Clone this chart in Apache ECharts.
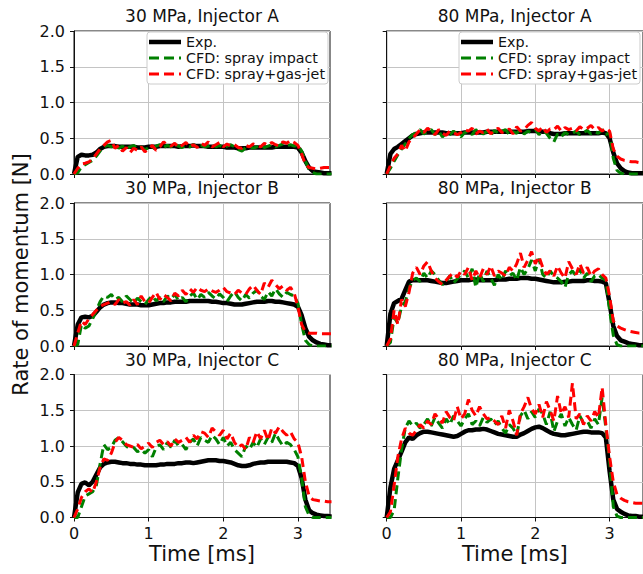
<!DOCTYPE html>
<html>
<head>
<meta charset="utf-8">
<script src="https://cdn.jsdelivr.net/npm/echarts@6/dist/echarts.min.js"></script>
<style>html,body{margin:0;padding:0;background:#fff}#c{width:643px;height:574px}</style>
</head>
<body>
<div id="c"></div>
<script>
// ---- data (time in ms, rate of momentum in N) ----
const time = [0,0.05,0.1,0.15,0.2,0.25,0.3,0.35,0.4,0.45,0.5,0.55,0.6,0.65,0.7,0.75,0.8,0.85,0.9,0.95,1,1.05,1.1,1.15,1.2,1.25,1.3,1.35,1.4,1.45,1.5,1.55,1.6,1.65,1.7,1.75,1.8,1.85,1.9,1.95,2,2.05,2.1,2.15,2.2,2.25,2.3,2.35,2.4,2.45,2.5,2.55,2.6,2.65,2.7,2.75,2.8,2.85,2.9,2.95,3,3.05,3.1,3.15,3.2,3.25,3.3,3.35,3.4,3.45];
const xTicks = [0,1,2,3];
const yTicks = [0,0.5,1,1.5,2];
const seriesNames = ['Exp.','CFD: spray impact','CFD: spray+gas-jet'];
const titles = ['30 MPa, Injector A','80 MPa, Injector A','30 MPa, Injector B','80 MPa, Injector B','30 MPa, Injector C','80 MPa, Injector C'];

const exp30A = [0,0.24,0.27,0.26,0.26,0.27,0.30,0.35,0.38,0.39,
 0.39,0.39,0.38,0.38,0.38,0.38,0.38,0.37,0.37,0.37,
 0.38,0.38,0.38,0.39,0.39,0.39,0.39,0.39,0.38,0.39,
 0.39,0.39,0.40,0.39,0.39,0.39,0.38,0.38,0.38,0.38,
 0.38,0.37,0.37,0.37,0.36,0.36,0.36,0.37,0.37,0.37,
 0.37,0.37,0.37,0.37,0.38,0.38,0.38,0.38,0.38,0.38,
 0.37,0.30,0.18,0.09,0.04,0.03,0.02,0.01,0.01,0.01];
const spray30A = [0,0.02,0.10,0.13,0.16,0.19,0.25,0.32,0.38,0.40,
 0.38,0.41,0.36,0.39,0.35,0.38,0.40,0.36,0.38,0.34,
 0.37,0.35,0.39,0.41,0.37,0.40,0.38,0.42,0.39,0.37,
 0.40,0.38,0.41,0.37,0.40,0.38,0.39,0.42,0.38,0.40,
 0.37,0.39,0.41,0.38,0.34,0.32,0.37,0.39,0.36,0.38,
 0.40,0.37,0.39,0.41,0.38,0.40,0.42,0.39,0.41,0.39,
 0.40,0.32,0.18,0.06,0.02,0.00,0.00,0.00,0.00,0.00];
const gasjet30A = [0,0.08,0.14,0.15,0.17,0.21,0.28,0.35,0.40,0.45,
 0.47,0.36,0.40,0.32,0.37,0.30,0.36,0.33,0.38,0.31,
 0.35,0.40,0.33,0.38,0.45,0.41,0.39,0.43,0.37,0.40,
 0.44,0.38,0.41,0.37,0.43,0.40,0.45,0.38,0.41,0.44,
 0.38,0.42,0.39,0.41,0.37,0.36,0.40,0.38,0.42,0.40,
 0.38,0.43,0.40,0.44,0.41,0.39,0.45,0.43,0.47,0.44,
 0.40,0.28,0.14,0.09,0.08,0.07,0.08,0.09,0.09,0.09];

const exp80A = [0,0.28,0.35,0.38,0.42,0.46,0.50,0.54,0.56,0.57,
 0.58,0.58,0.58,0.58,0.58,0.58,0.57,0.57,0.57,0.57,
 0.57,0.58,0.58,0.58,0.58,0.58,0.58,0.59,0.59,0.59,
 0.59,0.59,0.59,0.59,0.59,0.59,0.59,0.59,0.60,0.60,
 0.60,0.60,0.59,0.59,0.57,0.56,0.56,0.56,0.57,0.57,
 0.57,0.57,0.57,0.57,0.57,0.57,0.57,0.57,0.58,0.57,
 0.50,0.30,0.15,0.08,0.04,0.02,0.01,0.01,0.01,0.01];
const spray80A = [0,0.08,0.18,0.27,0.35,0.42,0.50,0.55,0.58,0.62,
 0.56,0.60,0.62,0.55,0.60,0.52,0.57,0.55,0.60,0.56,
 0.52,0.58,0.60,0.55,0.62,0.58,0.56,0.60,0.54,0.61,
 0.57,0.60,0.62,0.55,0.59,0.57,0.62,0.56,0.60,0.58,
 0.62,0.55,0.60,0.57,0.50,0.45,0.56,0.52,0.58,0.55,
 0.57,0.60,0.55,0.58,0.61,0.56,0.59,0.57,0.62,0.55,
 0.58,0.22,0.05,0.01,0.00,0.00,0.00,0.00,0.00,0.00];
const gasjet80A = [0,0.12,0.22,0.28,0.40,0.32,0.45,0.50,0.56,0.62,
 0.58,0.64,0.60,0.55,0.62,0.57,0.54,0.60,0.58,0.55,
 0.58,0.62,0.60,0.64,0.56,0.60,0.58,0.63,0.56,0.61,
 0.64,0.58,0.60,0.63,0.56,0.66,0.60,0.62,0.68,0.72,
 0.64,0.60,0.66,0.58,0.63,0.62,0.67,0.60,0.65,0.62,
 0.64,0.60,0.66,0.62,0.64,0.68,0.62,0.65,0.60,0.64,
 0.60,0.35,0.25,0.21,0.19,0.18,0.17,0.17,0.16,0.16];

const exp30B = [0,0.30,0.40,0.41,0.40,0.42,0.48,0.54,0.58,0.60,
 0.61,0.61,0.60,0.60,0.59,0.58,0.58,0.58,0.57,0.57,
 0.57,0.58,0.59,0.60,0.60,0.61,0.61,0.62,0.62,0.62,
 0.62,0.63,0.63,0.63,0.63,0.63,0.63,0.62,0.62,0.61,
 0.60,0.60,0.59,0.58,0.58,0.58,0.59,0.60,0.61,0.62,
 0.62,0.62,0.63,0.63,0.62,0.62,0.61,0.60,0.59,0.58,
 0.55,0.43,0.25,0.13,0.08,0.05,0.03,0.02,0.01,0.01];
const spray30B = [0,0.02,0.30,0.25,0.28,0.38,0.50,0.62,0.70,0.68,
 0.72,0.65,0.68,0.62,0.70,0.65,0.60,0.67,0.62,0.58,
 0.65,0.70,0.63,0.68,0.62,0.70,0.66,0.72,0.64,0.68,
 0.62,0.70,0.74,0.65,0.72,0.68,0.75,0.70,0.66,0.73,
 0.68,0.62,0.70,0.76,0.68,0.63,0.72,0.67,0.74,0.78,
 0.70,0.65,0.76,0.70,0.80,0.73,0.68,0.75,0.72,0.70,
 0.60,0.30,0.08,0.02,0.00,0.00,0.00,0.00,0.00,0.00];
const gasjet30B = [0,0.18,0.35,0.30,0.38,0.44,0.50,0.55,0.58,0.60,
 0.62,0.58,0.65,0.60,0.62,0.57,0.65,0.58,0.70,0.62,
 0.60,0.68,0.75,0.65,0.72,0.68,0.63,0.74,0.70,0.78,
 0.72,0.80,0.75,0.82,0.78,0.76,0.80,0.77,0.75,0.78,
 0.82,0.76,0.74,0.72,0.78,0.74,0.72,0.80,0.85,0.78,
 0.72,0.88,0.82,0.92,0.86,0.80,0.84,0.78,0.82,0.74,
 0.55,0.30,0.20,0.18,0.18,0.18,0.17,0.17,0.17,0.17];

const exp80B = [0,0.45,0.60,0.63,0.66,0.78,0.90,0.92,0.92,0.92,
 0.92,0.92,0.91,0.90,0.89,0.88,0.88,0.89,0.90,0.91,
 0.92,0.92,0.92,0.93,0.93,0.92,0.92,0.92,0.92,0.92,
 0.93,0.93,0.93,0.94,0.94,0.94,0.95,0.95,0.95,0.94,
 0.94,0.93,0.92,0.91,0.90,0.89,0.89,0.89,0.90,0.90,
 0.91,0.91,0.91,0.91,0.92,0.92,0.91,0.91,0.90,0.88,
 0.60,0.28,0.14,0.08,0.06,0.04,0.03,0.02,0.01,0.01];
const spray80B = [0,0.05,0.40,0.32,0.55,0.62,0.80,0.92,0.95,0.90,
 1.02,0.95,1.05,1.00,0.92,0.86,0.90,0.98,0.88,0.94,
 1.00,1.05,0.95,1.08,0.82,1.02,0.90,1.05,0.95,0.85,
 1.00,0.92,1.05,0.98,1.02,0.92,1.10,1.00,1.08,1.20,
 1.05,1.22,1.00,0.95,1.05,0.98,0.95,0.90,0.82,1.00,
 1.05,0.98,1.08,0.95,1.02,0.90,0.98,1.00,0.95,0.92,
 0.50,0.15,0.02,0.00,0.00,0.00,0.00,0.00,0.00,0.00];
const gasjet80B = [0,0.10,0.50,0.30,0.65,0.55,0.75,1.02,1.10,1.00,
 1.12,1.18,1.05,0.95,0.90,0.86,0.92,0.98,1.02,0.96,
 1.05,1.00,1.10,0.92,1.05,0.95,1.08,1.00,1.12,0.98,
 1.05,1.02,0.98,1.10,1.05,1.15,1.30,1.10,1.20,1.32,
 1.15,1.25,1.10,1.00,1.05,0.98,1.12,1.02,0.95,1.18,
 1.08,1.00,1.15,1.02,1.10,0.98,1.05,1.08,1.00,0.95,
 0.70,0.35,0.28,0.25,0.23,0.21,0.20,0.19,0.18,0.18];

const exp30C = [0,0.35,0.47,0.49,0.45,0.50,0.60,0.70,0.75,0.77,
 0.78,0.78,0.77,0.76,0.76,0.75,0.75,0.74,0.74,0.73,
 0.73,0.73,0.73,0.74,0.74,0.75,0.75,0.75,0.76,0.76,
 0.77,0.77,0.76,0.77,0.78,0.79,0.80,0.80,0.80,0.79,
 0.79,0.78,0.77,0.75,0.73,0.72,0.72,0.73,0.75,0.76,
 0.77,0.77,0.78,0.78,0.78,0.78,0.78,0.78,0.77,0.76,
 0.72,0.55,0.25,0.10,0.06,0.04,0.03,0.02,0.02,0.01];
const spray30C = [0,0.00,0.15,0.30,0.33,0.36,0.45,0.75,1.02,0.95,
 0.98,1.08,1.12,1.06,1.00,0.96,0.98,0.92,0.95,0.90,
 0.95,0.85,0.98,1.02,0.95,1.05,0.98,1.08,1.00,1.02,
 0.95,1.05,1.10,1.00,1.12,1.08,1.05,1.15,1.10,1.02,
 1.12,1.00,1.05,0.95,0.90,0.85,1.00,0.95,1.05,0.98,
 1.10,1.02,1.12,1.05,1.18,1.08,1.00,1.05,1.02,0.95,
 0.85,0.55,0.15,0.03,0.00,0.00,0.00,0.00,0.00,0.00];
const gasjet30C = [0,0.12,0.28,0.36,0.40,0.35,0.50,0.70,0.82,0.80,
 0.90,1.05,1.12,1.08,1.02,1.00,0.98,1.02,0.96,1.00,
 1.04,0.98,1.05,1.08,1.02,1.06,1.00,1.10,1.05,1.08,
 1.12,1.05,1.15,1.10,1.20,1.18,1.12,1.25,1.20,1.15,
 1.22,1.10,1.18,1.05,0.98,1.02,0.95,1.12,1.05,1.20,
 1.10,1.22,1.08,1.25,1.18,1.27,1.20,1.15,1.20,1.10,
 1.05,0.85,0.50,0.30,0.25,0.24,0.23,0.23,0.22,0.22];

const exp80C = [0,0.42,0.68,0.80,0.92,1.05,1.12,1.10,1.15,1.18,
 1.20,1.20,1.19,1.18,1.17,1.16,1.15,1.14,1.13,1.14,
 1.17,1.20,1.22,1.22,1.23,1.23,1.24,1.23,1.21,1.19,
 1.17,1.16,1.15,1.14,1.13,1.13,1.16,1.18,1.21,1.24,
 1.26,1.27,1.25,1.22,1.19,1.17,1.16,1.15,1.15,1.16,
 1.17,1.18,1.19,1.20,1.20,1.19,1.19,1.19,1.18,1.12,
 0.65,0.25,0.12,0.08,0.05,0.03,0.02,0.02,0.01,0.01];
const spray80C = [0,0.00,0.10,0.55,0.95,1.25,1.35,1.28,1.32,1.25,
 1.30,1.38,1.28,1.40,1.32,1.25,1.38,1.30,1.42,1.35,
 1.28,1.38,1.45,1.30,1.35,1.28,1.40,1.33,1.38,1.30,
 1.35,1.25,1.18,1.30,1.25,1.15,1.42,1.50,1.38,1.48,
 1.40,1.52,1.45,1.30,1.48,1.20,1.35,1.45,1.28,1.40,
 1.30,1.22,1.42,1.32,1.35,1.25,1.38,1.30,1.68,1.25,
 0.80,0.15,0.02,0.00,0.00,0.00,0.00,0.00,0.00,0.00];
const gasjet80C = [0,0.08,0.45,0.85,1.10,1.25,1.18,1.15,1.22,1.30,
 1.25,1.35,1.30,1.45,1.38,1.32,1.48,1.40,1.35,1.55,
 1.38,1.45,1.65,1.50,1.42,1.55,1.45,1.38,1.40,1.35,
 1.30,1.42,1.25,1.50,1.35,1.15,1.45,1.55,1.68,1.52,
 1.45,1.58,1.40,1.62,1.50,1.35,1.70,1.45,1.55,1.40,
 1.88,1.38,1.45,1.30,1.42,1.35,1.48,1.40,1.82,1.30,
 0.85,0.50,0.32,0.27,0.24,0.22,0.21,0.20,0.20,0.20];

const panelExp = [exp30A, exp80A, exp30B, exp80B, exp30C, exp80C];
const panelSpray = [spray30A, spray80A, spray30B, spray80B, spray30C, spray80C];
const panelGasjet = [gasjet30A, gasjet80A, gasjet30B, gasjet80B, gasjet30C, gasjet80C];

// ---- layout ----
const FONT = 'DejaVu Sans';
const colLeft = [74, 386.7];
const colWidth = [256, 257.5];
const colMax = [3.43, 3.45];
const rowTop = [31, 203, 374.5];
const plotH = 143;
const titleTop = [7, 179, 351];

const pairs = (vals) => time.map((t, i) => [t, vals[i]]);

const grids = [], xAxes = [], yAxes = [], series = [], titleOpts = [];
for (let p = 0; p < 6; p++) {
  const row = Math.floor(p / 2), col = p % 2;
  grids.push({left: colLeft[col], top: rowTop[row], width: colWidth[col], height: plotH,
    show: true, borderColor: '#111', borderWidth: 1, backgroundColor: 'transparent', containLabel: false});
  titleOpts.push({text: titles[p], left: colLeft[col] + 128, top: titleTop[row], textAlign: 'center', padding: 0,
    textStyle: {fontSize: 17, fontWeight: 'normal', color: '#111', fontFamily: FONT}});
  xAxes.push({type: 'value', gridIndex: p, min: 0, max: colMax[col], interval: 1,
    name: row === 2 ? 'Time [ms]' : '', nameLocation: 'middle', nameGap: 26,
    nameTextStyle: {fontSize: 21, color: '#111', fontFamily: FONT},
    axisLine: {show: true, onZero: false, lineStyle: {color: '#111', width: 1}},
    axisTick: {show: true, inside: false, length: 4, customValues: xTicks, lineStyle: {color: '#111', width: 1}},
    axisLabel: {show: row === 2, customValues: xTicks, margin: 8, fontSize: 16, color: '#111', fontFamily: FONT},
    splitLine: {show: true, lineStyle: {color: '#c4c4c4', width: 1}}});
  yAxes.push({type: 'value', gridIndex: p, min: 0, max: 2, interval: 0.5,
    name: (p === 2) ? 'Rate of momentum [N]' : '', nameLocation: 'middle', nameGap: 43,
    nameTextStyle: {fontSize: 21, color: '#111', fontFamily: FONT},
    axisLine: {show: true, lineStyle: {color: '#111', width: 1}},
    axisTick: {show: true, inside: false, length: 4, lineStyle: {color: '#111', width: 1}},
    axisLabel: {show: col === 0, margin: 9, fontSize: 16, color: '#111', fontFamily: FONT,
      formatter: (v) => v.toFixed(1)},
    splitLine: {show: true, lineStyle: {color: '#c4c4c4', width: 1}}});
  series.push({name: seriesNames[0], type: 'line', xAxisIndex: p, yAxisIndex: p, data: pairs(panelExp[p]),
    symbol: 'none', showSymbol: false, color: '#000', lineStyle: {color: '#000', width: 4.5}, z: 2});
  series.push({name: seriesNames[1], type: 'line', xAxisIndex: p, yAxisIndex: p, data: pairs(panelSpray[p]),
    symbol: 'none', showSymbol: false, color: '#008000', lineStyle: {color: '#008000', width: 3, type: [9, 5]}, z: 3});
  series.push({name: seriesNames[2], type: 'line', xAxisIndex: p, yAxisIndex: p, data: pairs(panelGasjet[p]),
    symbol: 'none', showSymbol: false, color: '#ff0000', lineStyle: {color: '#ff0000', width: 3, type: [9, 5]}, z: 4});
}

const solidIcon = 'path://M0,0h32v4.5h-32z';
const dashIcon = 'path://M0,0h10v3h-10z M15,0h10v3h-10z M30,0h2v3h-2z';
const legendBase = {orient: 'vertical', top: 32, itemWidth: 32, itemHeight: 14, itemGap: 2,
  padding: [3, 3, 3, 2], backgroundColor: '#fff', borderColor: '#cccccc', borderWidth: 1, borderRadius: 3,
  textStyle: {fontSize: 14.3, lineHeight: 14, color: '#111', fontFamily: FONT}, selectedMode: false,
  data: [{name: seriesNames[0], icon: solidIcon}, {name: seriesNames[1], icon: dashIcon}, {name: seriesNames[2], icon: dashIcon}]};

const chart = echarts.init(document.getElementById('c'), null, {renderer: 'svg', width: 643, height: 574});
chart.setOption({
  animation: false,
  backgroundColor: '#fff',
  title: titleOpts,
  legend: [Object.assign({left: 147}, legendBase), Object.assign({left: 459}, legendBase)],
  grid: grids, xAxis: xAxes, yAxis: yAxes, series: series
});
</script>
</body>
</html>
